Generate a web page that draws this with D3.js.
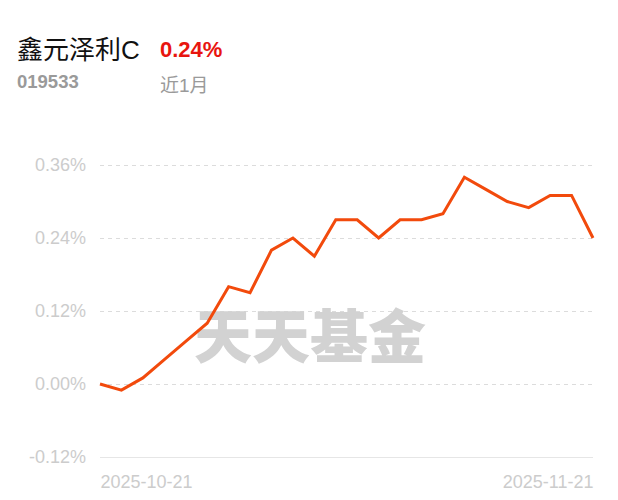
<!DOCTYPE html>
<html><head><meta charset="utf-8">
<script src="https://cdn.jsdelivr.net/npm/d3@7"></script>
<style>
html,body{margin:0;padding:0;background:#fff;}
svg{display:block;font-family:"Liberation Sans","Noto Sans CJK SC",sans-serif;}
</style></head>
<body><svg id="c" width="618" height="500"></svg>
<script>
const fundName = "鑫元泽利C";
const fundCode = "019533";
const periodReturn = "0.24%";
const periodLabel = "近1月";
const dates = ["2025-10-21","2025-10-22","2025-10-23","2025-10-24","2025-10-27","2025-10-28","2025-10-29","2025-10-30","2025-10-31",
  "2025-11-03","2025-11-04","2025-11-05","2025-11-06","2025-11-07","2025-11-10","2025-11-11","2025-11-12","2025-11-13","2025-11-14",
  "2025-11-17","2025-11-18","2025-11-19","2025-11-20","2025-11-21"];
const values = [0.00,-0.01,0.01,0.04,0.07,0.10,0.16,0.15,0.22,0.24,0.21,0.27,0.27,0.24,0.27,0.27,0.28,0.34,0.32,0.30,0.29,0.31,0.31,0.24];
const yTicks = [-0.12,0.00,0.12,0.24,0.36];
const xTickLabels = ["2025-10-21","2025-11-21"];

const svg = d3.select("#c");
const x = d3.scalePoint().domain(dates).range([100,593]);
const y = d3.scaleLinear().domain([-0.12,0.36]).range([457,165]);

// header
svg.append("text").attr("x",17).attr("y",59).attr("font-size",26).attr("fill","#111")
  .attr("font-family","'Liberation Sans','Noto Sans CJK SC',sans-serif").text(fundName);
svg.append("text").attr("x",160).attr("y",57).attr("font-size",22).attr("font-weight","bold").attr("fill","#e8150f")
  .attr("font-family","'Liberation Sans',sans-serif").text(periodReturn);
svg.append("text").attr("x",17).attr("y",88).attr("font-size",18.5).attr("fill","#9a9a9a").attr("font-weight","bold")
  .attr("font-family","'Liberation Sans',sans-serif").text(fundCode);
svg.append("text").attr("x",160).attr("y",92).attr("font-size",19).attr("fill","#9a9a9a")
  .attr("font-family","'Liberation Sans','Noto Sans CJK SC',sans-serif").text(periodLabel);

// grid
const grid = svg.append("g");
grid.selectAll("line").data(yTicks).join("line")
  .attr("x1",100).attr("x2",593)
  .attr("y1",d=>Math.round(y(d))+0.5).attr("y2",d=>Math.round(y(d))+0.5)
  .attr("stroke",d=>d===-0.12?"#e6e6e6":"#dcdcdc")
  .attr("stroke-dasharray",d=>d===-0.12?null:"4,4");

// y labels via axis
const yAxis = d3.axisLeft(y).tickValues(yTicks).tickSize(0).tickPadding(0)
  .tickFormat(d=>(d<0?"-":"")+d3.format(".2f")(Math.abs(d))+"%");
const ya = svg.append("g").attr("transform","translate(86,0)").call(yAxis);
ya.select(".domain").remove();
ya.selectAll("text").attr("font-size",18).attr("fill","#cccccc").attr("font-family","'Liberation Sans',sans-serif");

// watermark
svg.append("text").attr("x",310).attr("y",358).attr("text-anchor","middle")
  .attr("font-size",58).attr("font-weight","900").attr("fill","#d2d2d2")
  .attr("font-family","'Noto Sans CJK SC',sans-serif").text("天天基金");

// x labels
const xAxis = d3.axisBottom(x).tickValues(xTickLabels).tickSize(0).tickPadding(0);
const xa = svg.append("g").attr("transform","translate(0,475)").call(xAxis);
xa.select(".domain").remove();
xa.selectAll("text").attr("font-size",18).attr("fill","#cccccc").attr("font-family","'Liberation Sans',sans-serif")
  .attr("text-anchor",(d,i)=>i===0?"start":"end");

// line
const line = d3.line().x((d,i)=>x(dates[i])).y(d=>y(d));
svg.append("path").datum(values).attr("d",line).attr("fill","none")
  .attr("stroke","#f24a0c").attr("stroke-width",3).attr("stroke-linejoin","miter");
</script></body></html>
